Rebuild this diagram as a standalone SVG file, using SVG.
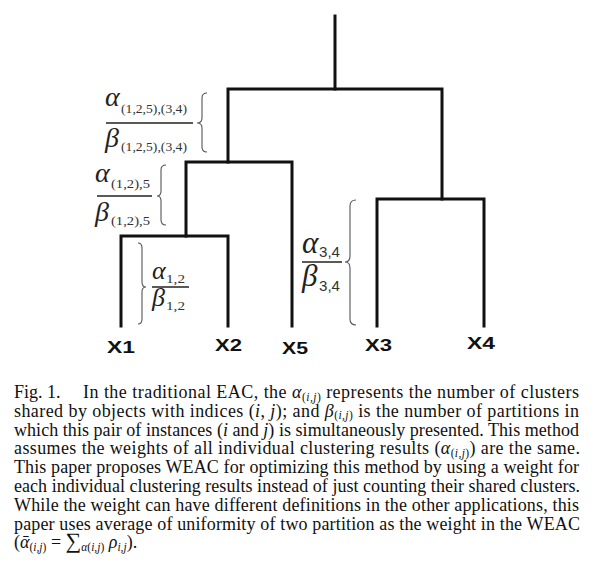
<svg xmlns="http://www.w3.org/2000/svg" width="600" height="574" viewBox="0 0 600 574">
<style>
.tree{fill:none;stroke:#111;stroke-width:3;stroke-linejoin:miter;stroke-linecap:square}
.brace{fill:none;stroke:#555;stroke-width:1.1}
.bar{stroke:#222;stroke-width:1.3}
.g{font-family:"Liberation Serif","Times New Roman",serif;font-style:italic;fill:#222}
.s{font-family:"Liberation Serif","Times New Roman",serif;fill:#333}
.ss{font-family:"Liberation Sans",Arial,sans-serif;fill:#333}
.leaf{font-family:"Liberation Sans",Arial,sans-serif;font-weight:bold;font-size:17px;fill:#111}
.cap{font-family:"Liberation Serif","Times New Roman",serif;font-size:18px;fill:#111}
.i{font-style:italic}
.sb{font-size:11.5px}
</style>
<rect width="600" height="574" fill="#fff"/>
<g id="connectors">
<path class="tree" d="M335 16 V89"/>
<path class="tree" d="M228 162 V89 H442 V199"/>
<path class="tree" d="M186 236 V162 H292 V326"/>
<path class="tree" d="M121 326 V236 H228 V326"/>
<path class="tree" d="M377 326 V199 H484 V326"/>
</g>
<g id="X1"><text class="leaf" x="107" y="353" textLength="28" lengthAdjust="spacingAndGlyphs">X1</text></g>
<g id="X2"><text class="leaf" x="215" y="351" textLength="27" lengthAdjust="spacingAndGlyphs">X2</text></g>
<g id="X5"><text class="leaf" x="282" y="354" textLength="26" lengthAdjust="spacingAndGlyphs">X5</text></g>
<g id="X3"><text class="leaf" x="365" y="351" textLength="27" lengthAdjust="spacingAndGlyphs">X3</text></g>
<g id="X4"><text class="leaf" x="467" y="349" textLength="28" lengthAdjust="spacingAndGlyphs">X4</text></g>
<g id="w12534">
<text class="g" x="105" y="106" font-size="28">α</text>
<text class="s" x="121" y="113" font-size="13.5" textLength="66" lengthAdjust="spacingAndGlyphs">(1,2,5),(3,4)</text>
<line class="bar" x1="106" y1="123" x2="193" y2="123"/>
<text class="g" x="105" y="147" font-size="28">β</text>
<text class="s" x="121" y="151" font-size="13.5" textLength="66" lengthAdjust="spacingAndGlyphs">(1,2,5),(3,4)</text>
<path class="brace" d="M207 93 Q202 93 202 98 L202 118 Q202 123 197 123 Q202 123 202 128 L202 147 Q202 152 207 152"/>
</g>
<g id="w125">
<text class="g" x="95" y="182" font-size="28">α</text>
<text class="s" x="111" y="188" font-size="13.5" textLength="39" lengthAdjust="spacingAndGlyphs">(1,2),5</text>
<line class="bar" x1="97" y1="196" x2="152" y2="196"/>
<text class="g" x="95" y="221" font-size="28">β</text>
<text class="s" x="111" y="225" font-size="13.5" textLength="39" lengthAdjust="spacingAndGlyphs">(1,2),5</text>
<path class="brace" d="M166 165 Q161 165 161 170 L161 191 Q161 196 157 196 Q161 196 161 201 L161 220 Q161 225 166 225"/>
</g>
<g id="w12">
<text class="g" x="152" y="279" font-size="26">α</text>
<text class="s" x="166" y="283" font-size="13.5" textLength="19" lengthAdjust="spacingAndGlyphs">1,2</text>
<line class="bar" x1="152" y1="287" x2="189" y2="287"/>
<text class="g" x="152" y="306" font-size="26">β</text>
<text class="s" x="166" y="310" font-size="13.5" textLength="19" lengthAdjust="spacingAndGlyphs">1,2</text>
<path class="brace" d="M138 243 Q142 243 142 248 L142 282 Q142 287 146 287 Q142 287 142 292 L142 319 Q142 324 138 324"/>
</g>
<g id="w34">
<text class="g" x="302" y="253" font-size="31">α</text>
<text class="ss" x="319" y="257" font-size="15" textLength="21" lengthAdjust="spacingAndGlyphs">3,4</text>
<line class="bar" x1="302" y1="262" x2="342" y2="262"/>
<text class="g" x="302" y="286" font-size="31">β</text>
<text class="ss" x="319" y="291" font-size="15" textLength="21" lengthAdjust="spacingAndGlyphs">3,4</text>
<path class="brace" d="M356 200 Q350 200 350 206 L350 256 Q350 262 345 262 Q350 262 350 268 L350 319 Q350 325 356 325"/>
</g>
<g id="caption" class="cap">
<text x="14" y="398">Fig. 1.</text>
<text x="83" y="398" textLength="496" lengthAdjust="spacing">In the traditional EAC, the <tspan class="i">α</tspan><tspan class="sb" dy="2.5">(<tspan class="i">i,j</tspan>)</tspan><tspan dy="-2.5"> represents the number of clusters</tspan></text>
<text x="14" y="416.8" textLength="565" lengthAdjust="spacing">shared by objects with indices (<tspan class="i">i</tspan>, <tspan class="i">j</tspan>); and <tspan class="i">β</tspan><tspan class="sb" dy="2.5">(<tspan class="i">i,j</tspan>)</tspan><tspan dy="-2.5"> is the number of partitions in</tspan></text>
<text x="14" y="435.6" textLength="565" lengthAdjust="spacing">which this pair of instances (<tspan class="i">i</tspan> and <tspan class="i">j</tspan>) is simultaneously presented. This method</text>
<text x="14" y="454.4" textLength="566" lengthAdjust="spacing">assumes the weights of all individual clustering results (<tspan class="i">α</tspan><tspan class="sb" dy="2.5">(<tspan class="i">i,j</tspan>)</tspan><tspan dy="-2.5">) are the same.</tspan></text>
<text x="14" y="473.2" textLength="565" lengthAdjust="spacing">This paper proposes WEAC for optimizing this method by using a weight for</text>
<text x="14" y="492" textLength="566" lengthAdjust="spacing">each individual clustering results instead of just counting their shared clusters.</text>
<text x="14" y="510.8" textLength="565" lengthAdjust="spacing">While the weight can have different definitions in the other applications, this</text>
<text x="14" y="529.6" textLength="566" lengthAdjust="spacing">paper uses average of uniformity of two partition as the weight in the WEAC</text>
<text x="14" y="548.4">(<tspan class="i">ᾱ</tspan><tspan class="sb" dy="2.5">(<tspan class="i">i,j</tspan>)</tspan><tspan dy="-2.5"> = </tspan><tspan font-size="22">∑</tspan><tspan class="sb" dy="2.5"><tspan class="i">α</tspan>(<tspan class="i">i,j</tspan>)</tspan><tspan dy="-2.5"> </tspan><tspan class="i">ρ</tspan><tspan class="sb i" dy="2.5">i,j</tspan><tspan dy="-2.5">).</tspan></text>
</g>
</svg>
